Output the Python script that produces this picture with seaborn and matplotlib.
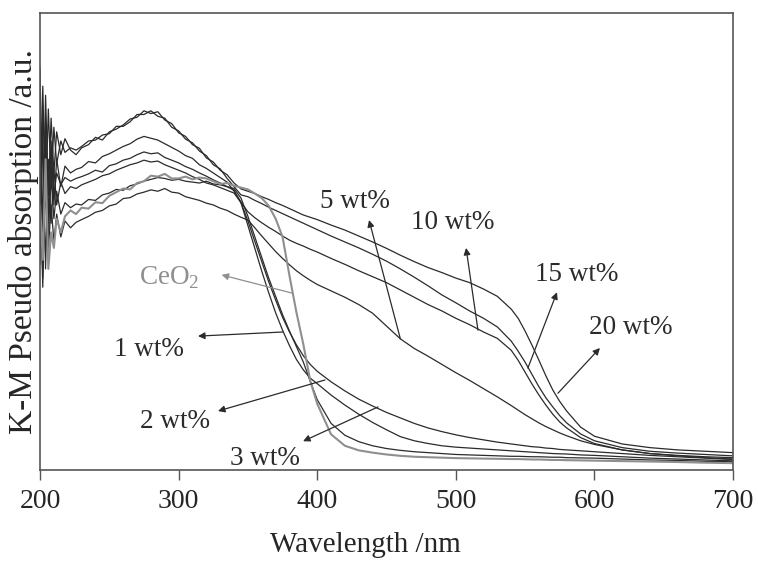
import matplotlib
matplotlib.use("Agg")
import matplotlib.pyplot as plt
import seaborn as sns

# wavelength grid (nm), shared by all spectra
wavelength = [200, 202, 204, 206, 208, 210, 212, 215, 218, 222,
              226, 230, 235, 240, 245, 250, 255, 260, 265, 270,
              275, 280, 285, 290, 295, 300, 305, 310, 315, 320,
              325, 330, 335, 340, 345, 350, 355, 360, 365, 370,
              375, 380, 385, 390, 395, 400, 410, 420, 430, 440,
              450, 460, 470, 480, 490, 500, 510, 520, 530, 540,
              545, 550, 555, 560, 565, 570, 575, 580, 590, 600,
              620, 640, 660, 680, 700]

# K-M pseudo absorption (a.u.)
wt20 = [88, 52, 82, 60, 77, 65, 74, 69, 72.5, 70,
        69, 70.5, 71.2, 72.8, 72.2, 74, 74.6, 75.5, 76.8, 77.2,
        78.6, 78, 78.4, 76.6, 75.8, 73.8, 73, 71.2, 70.4, 68.3,
        67.4, 65.6, 64.6, 62.8, 61.5, 61, 60.5, 59.8, 59.2, 58.5,
        57.9, 57.2, 56.5, 55.8, 55.3, 54.8, 53.6, 52.5, 51.2, 49.9,
        48.5, 47, 45.6, 44.3, 43.2, 42, 41, 39.6, 38, 35.2,
        33.2, 30.4, 27.3, 24, 20.6, 17.5, 15, 12.9, 9.4, 7.4,
        5.7, 4.9, 4.4, 4.1, 3.8]
wt15 = [60, 84, 58, 79, 63, 75, 67, 72, 69.5, 70.5,
        70, 70.8, 72, 72.2, 73.3, 73.6, 75.2, 75.2, 76.2, 77.8,
        77.8, 78.6, 77.4, 77, 75, 74.2, 72.4, 71.6, 69.8, 68.8,
        66.8, 65.9, 63.8, 62, 60.2, 59.8, 59, 58.3, 57.5, 56.8,
        56.1, 55.4, 54.7, 54, 53.3, 52.6, 51.2, 49.9, 48.6, 47.2,
        45.7, 44, 42.2, 40.3, 38.3, 36.6, 34.8, 33.2, 31.3, 28.2,
        26, 23.6, 20.9, 18.2, 15.8, 13.8, 11.9, 10.3, 7.9, 6.4,
        4.9, 4.1, 3.7, 3.4, 3.1]
wt10 = [45, 78, 66, 50, 72, 58, 68, 62, 66.5, 65,
        65.8, 66.2, 67.5, 67.2, 68.6, 69.2, 70, 70.8, 71.4, 72.4,
        73, 72.6, 72.2, 71.4, 70.6, 69.8, 68.8, 68.2, 66.8, 66,
        65, 64, 63, 61, 58.6, 56.5, 55.2, 54.1, 53.1, 52.2,
        51.2, 50.3, 49.6, 49, 48.3, 47.7, 46.3, 45, 43.6, 42.3,
        41, 39.4, 37.8, 36.2, 34.8, 33.2, 31.8, 30.2, 28.8, 26.2,
        24, 21.4, 18.8, 16.4, 14.2, 12.2, 10.5, 9.2, 7.1, 5.8,
        4.4, 3.6, 3.2, 2.9, 2.7]
wt5 = [70, 42, 62, 48, 58, 50, 56, 51, 54.5, 53,
       54.2, 54.8, 55.5, 56.4, 56.8, 57.8, 58.2, 59.4, 59.6, 60.4,
       60.8, 61.3, 61, 61.6, 60.8, 60.6, 59.8, 59.4, 59, 58.4,
       58, 57.3, 56.8, 56, 55.3, 54.7, 53, 51.2, 49.5, 47.8,
       46.3, 44.9, 43.6, 42.5, 41.5, 40.6, 39.2, 37.8, 36.2, 34.3,
       31.5, 28.7, 26.6, 24.9, 23.1, 21.3, 19.6, 17.8, 16, 14.1,
       13.1, 12.1, 11.2, 10.3, 9.5, 8.8, 8.1, 7.5, 6.4, 5.6,
       4.4, 3.6, 3.1, 2.7, 2.4]
wt3 = [80, 48, 72, 56, 70, 60, 65, 62.5, 64, 63.2,
       63.8, 64.2, 64.8, 65.6, 65.2, 66.6, 67, 67.8, 68.2, 69,
       69.6, 69.2, 69.4, 68.4, 67.8, 67.2, 66.4, 65.8, 65, 64.3,
       63.5, 62.8, 62, 61.2, 58.5, 54.5, 50, 45.6, 41.2, 37.2,
       33.4, 30.2, 27.4, 25, 23.1, 21.6, 19.3, 17.3, 15.5, 14,
       12.6, 11.4, 10.2, 9.2, 8.4, 7.7, 7.1, 6.6, 6.1, 5.7,
       5.5, 5.3, 5.1, 5, 4.8, 4.7, 4.5, 4.4, 4.2, 4,
       3.6, 3.2, 2.9, 2.6, 2.3]
wt2 = [52, 74, 44, 68, 54, 66, 58, 63, 60.5, 62,
       61.6, 62.4, 63, 63.6, 64.4, 64.8, 65.6, 66.2, 66.8, 67.2,
       67.8, 67.4, 67.6, 66.8, 66.2, 65.6, 65, 64.2, 63.6, 62.8,
       62.4, 61.8, 61.2, 60.6, 58.5, 53.5, 48.5, 43.5, 38.8, 34.4,
       30.6, 27.2, 24.2, 21.9, 20.1, 18.9, 16.4, 14.2, 12.2, 10.4,
       8.8, 7.3, 6.4, 5.8, 5.3, 5, 4.8, 4.6, 4.4, 4.2,
       4.1, 4, 3.9, 3.8, 3.7, 3.6, 3.55, 3.5, 3.3, 3.2,
       2.9, 2.6, 2.4, 2.2, 2]
wt1 = [62, 40, 76, 52, 64, 55, 61, 56, 58.5, 57.4,
       58.2, 58, 59.2, 59, 60.2, 60.6, 61.4, 61.2, 62.2, 62.6,
       63.2, 63.6, 64, 63.8, 63.4, 63.6, 63.2, 63, 62.8, 63.2,
       62.6, 62.4, 62, 61.6, 59.5, 55.5, 51, 46.5, 42, 38,
       34, 30.4, 27, 23.6, 19.4, 15.4, 10.2, 7.6, 6.2, 5.3,
       4.7, 4.3, 4, 3.8, 3.6, 3.4, 3.3, 3.2, 3.1, 3,
       3, 2.95, 2.9, 2.9, 2.85, 2.8, 2.8, 2.7, 2.65, 2.6,
       2.4, 2.2, 2.1, 1.9, 1.8]
ceo2 = [58, 46, 68, 44, 52, 48.6, 55, 52, 55.5, 56.8,
        56, 57.4, 57.2, 58.6, 58.4, 60, 60.8, 61.6, 61.4, 62.8,
        63.2, 64.4, 64.2, 64.8, 63.8, 63.8, 64.2, 63.6, 64, 63.8,
        63.2, 62.6, 62.8, 62.2, 61.8, 61.4, 60.5, 59.5, 57.8, 55,
        51, 42.5, 34.5, 27.5, 19.5, 14.5, 7.8, 5.3, 4.3, 3.8,
        3.4, 3.1, 2.9, 2.8, 2.7, 2.6, 2.55, 2.5, 2.45, 2.4,
        2.4, 2.35, 2.3, 2.3, 2.25, 2.2, 2.2, 2.15, 2.1, 2.05,
        1.95, 1.85, 1.75, 1.6, 1.5]

sns.set_style("ticks")
plt.rcParams['font.family'] = ['Liberation Serif', 'DejaVu Serif']
plt.rcParams['mathtext.fontset'] = 'custom'
plt.rcParams['mathtext.rm'] = 'Liberation Serif'

fig = plt.figure(figsize=(7.58, 5.66), dpi=100)
ax = fig.add_axes([0.0528, 0.1696, 0.9142, 0.8074])

dark = '#2b2b2b'
grey = '#8f8f8f'
for series in [wt20, wt15, wt10, wt5, wt3, wt2, wt1]:
    sns.lineplot(x=wavelength, y=series, ax=ax, color=dark, lw=0.9, sort=False)
sns.lineplot(x=wavelength, y=ceo2, ax=ax, color=grey, lw=1.5, sort=False)

ax.set_xlim(200, 700)
ax.set_ylim(0, 100)
ax.set_xticks([200, 300, 400, 500, 600, 700])
ax.set_yticks([])
ax.tick_params(axis='x', direction='out', length=7, width=1, pad=7,
               labelsize=20, color='#555555')
for sp in ax.spines.values():
    sp.set_color('#555555')
    sp.set_linewidth(1.2)
ax.set_xlabel('Wavelength /nm', fontsize=21, labelpad=12)
ax.xaxis.set_label_coords(0.47, -0.135)
ax.set_ylabel('K-M Pseudo absorption /a.u.', fontsize=24, labelpad=1)

# labels with arrows pointing away from the curves
labels = [
    ('CeO$_2$', (293, 42), (382, 38.7), (331, 42.7), grey),
    ('1 wt%', (278.6, 26.3), (375.3, 30.2), (314, 29.3), dark),
    ('2 wt%', (297.4, 10.7), (405.6, 19.7), (328.4, 12.9), dark),
    ('3 wt%', (362.3, 2.6), (443.9, 13.8), (389.8, 6.3), dark),
    ('5 wt%', (427.3, 58.8), (460, 28.7), (437.4, 54.7), dark),
    ('10 wt%', (498, 54.2), (516, 30.6), (507.4, 48.6), dark),
    ('15 wt%', (587.4, 42.7), (552, 22.3), (573, 38.9), dark),
    ('20 wt%', (626.4, 31.1), (573.7, 16.8), (604, 26.7), dark),
]
for text, pos, tail, head, col in labels:
    ax.text(pos[0], pos[1], text, fontsize=19.5, color=col,
            ha='center', va='center')
    ax.annotate('', xy=head, xytext=tail,
                arrowprops=dict(arrowstyle='-|>', color=col, lw=0.9,
                                mutation_scale=10, shrinkA=0, shrinkB=0))

fig.savefig('out.png', dpi=100)
